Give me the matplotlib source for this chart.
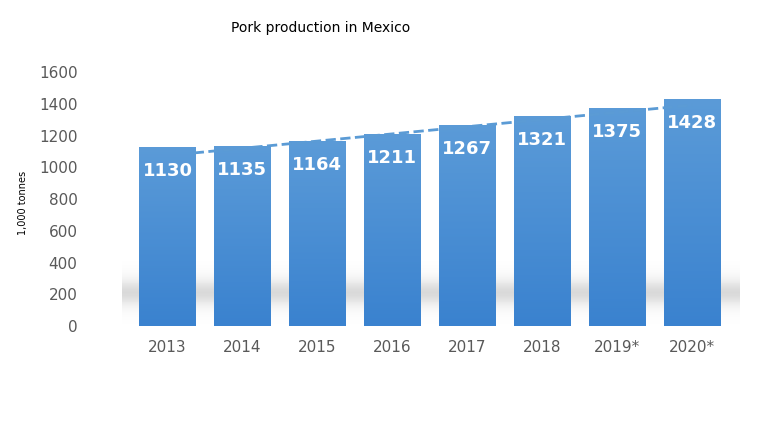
import numpy as np
import matplotlib.pyplot as plt
from matplotlib.patches import Rectangle

years = ['2013', '2014', '2015', '2016', '2017', '2018', '2019*', '2020*']
production = [1130, 1135, 1164, 1211, 1267, 1321, 1375, 1428]

fig = plt.figure(figsize=(7.68, 4.32), dpi=100)
ax = fig.add_axes([0.137, 0.245, 0.826, 0.588])

x = np.arange(len(years))
width = 0.75

# soft grey shadow band behind the bars
shadow = np.linspace(0, 1, 100).reshape(-1, 1)
shadow = np.exp(-((shadow - 0.5) ** 2) / 0.05)
ax.imshow(shadow, extent=(-0.6, 7.8, 0, 420), aspect='auto', cmap='Greys',
          vmin=0, vmax=3.5, origin='lower', zorder=0.5, alpha=0.8)

grad = np.linspace(0, 1, 256).reshape(-1, 1)
from matplotlib.colors import LinearSegmentedColormap
cmap = LinearSegmentedColormap.from_list('b', ['#3a82cf', '#5b9bd8'])
for xi, v in zip(x, production):
    rect = Rectangle((xi - width / 2, 0), width, v, facecolor='none', edgecolor='none')
    ax.add_patch(rect)
    im = ax.imshow(grad, extent=(xi - width / 2, xi + width / 2, 0, v), aspect='auto',
                   cmap=cmap, origin='lower', zorder=2)
    im.set_clip_path(rect)
    ax.text(xi, v - 150, str(v), ha='center', va='center', color='white',
            fontsize=13, fontweight='bold', zorder=3)

# linear trend line
k, b = np.polyfit(x, production, 1)
tx = np.array([0.35, 7])
ax.plot(tx, k * tx + b - 20, linestyle='--', color='#5b9bd5', linewidth=2, zorder=4)

ax.set_xlim(-0.83, 7.63)
ax.set_ylim(0, 1600)
ax.set_yticks(np.arange(0, 1601, 200))
ax.set_xticks(x)
ax.set_xticklabels(years)
ax.tick_params(axis='both', length=0, labelsize=11, colors='#595959')
ax.tick_params(axis='y', pad=20)
ax.tick_params(axis='x', pad=10)
for s in ax.spines.values():
    s.set_visible(False)

fig.text(0.03, 0.53, '1,000 tonnes', rotation=90, fontsize=7, va='center', ha='center')
fig.text(0.417, 0.935, 'Pork production in Mexico', fontsize=10, ha='center', va='center')

fig.savefig('out.png', dpi=100)
